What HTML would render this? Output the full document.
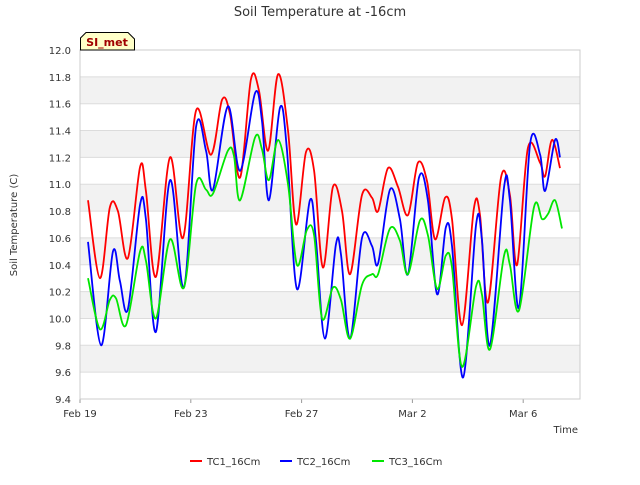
<!DOCTYPE html>
<html><head><meta charset="utf-8"><style>
body{margin:0;background:#fff;font-family:"Liberation Sans","DejaVu Sans",sans-serif;}
svg text{font-family:"DejaVu Sans","Liberation Sans",sans-serif;}
</style></head><body>
<svg id="c" width="640" height="480" xmlns="http://www.w3.org/2000/svg"></svg>
<script>
const xTickLabels=["Feb 19","Feb 23","Feb 27","Mar 2","Mar 6"];
const xTickDays=[0,4,8,12,16];
const yTicks=[9.4,9.6,9.8,10.0,10.2,10.4,10.6,10.8,11.0,11.2,11.4,11.6,11.8,12.0];
const seriesNames=["TC1_16Cm","TC2_16Cm","TC3_16Cm"];
const tc1Days=[0.29,0.72,1.08,1.37,1.73,2.17,2.38,2.74,3.25,3.72,4.19,4.73,5.13,5.42,5.78,6.17,6.46,6.79,7.15,7.51,7.80,8.16,8.45,8.77,9.13,9.46,9.75,10.18,10.54,10.76,11.12,11.48,11.84,12.20,12.53,12.82,13.18,13.43,13.79,14.22,14.44,14.73,15.20,15.52,15.78,16.17,16.61,16.79,17.04,17.33];
const tc1Vals=[10.88,10.30,10.83,10.80,10.45,11.13,10.95,10.31,11.20,10.60,11.55,11.22,11.63,11.52,11.05,11.78,11.70,11.25,11.82,11.40,10.70,11.24,11.10,10.38,10.98,10.80,10.33,10.92,10.90,10.80,11.12,10.98,10.77,11.16,11.02,10.59,10.90,10.74,9.95,10.82,10.77,10.12,11.05,10.92,10.40,11.27,11.16,11.06,11.33,11.12];
const tc2Days=[0.29,0.76,1.19,1.44,1.73,2.17,2.38,2.74,3.25,3.75,4.19,4.55,4.80,5.34,5.78,6.32,6.57,6.82,7.22,7.47,7.83,8.30,8.52,8.84,9.24,9.42,9.75,10.18,10.54,10.76,11.19,11.55,11.84,12.24,12.56,12.89,13.21,13.43,13.83,14.30,14.51,14.80,15.31,15.52,15.85,16.25,16.61,16.79,17.15,17.33];
const tc2Vals=[10.57,9.80,10.50,10.28,10.07,10.85,10.74,9.90,11.03,10.23,11.43,11.25,10.96,11.58,11.10,11.68,11.47,10.88,11.57,11.26,10.22,10.88,10.58,9.85,10.55,10.48,9.85,10.60,10.54,10.41,10.96,10.74,10.33,11.05,10.88,10.18,10.68,10.54,9.56,10.70,10.59,9.80,10.98,10.88,10.08,11.30,11.22,10.95,11.33,11.20];
const tc3Days=[0.29,0.72,1.08,1.30,1.66,2.17,2.38,2.74,3.25,3.75,4.19,4.55,4.80,5.34,5.56,5.78,6.32,6.57,6.82,7.15,7.51,7.83,8.19,8.45,8.74,9.13,9.42,9.75,10.18,10.54,10.76,11.19,11.55,11.84,12.27,12.56,12.89,13.21,13.43,13.79,14.30,14.51,14.80,15.31,15.52,15.85,16.39,16.68,16.90,17.15,17.40];
const tc3Vals=[10.30,9.92,10.14,10.15,9.95,10.50,10.43,10.00,10.59,10.23,11.00,10.96,10.93,11.25,11.21,10.88,11.35,11.26,11.03,11.33,11.00,10.40,10.66,10.62,10.00,10.23,10.14,9.85,10.25,10.33,10.33,10.67,10.58,10.33,10.73,10.62,10.22,10.47,10.38,9.64,10.24,10.18,9.77,10.47,10.40,10.06,10.83,10.74,10.78,10.88,10.67];
const colors=["#ff0000","#0000ff","#00e600"];
const NS="http://www.w3.org/2000/svg";
const svg=document.getElementById('c');
const L=80,R=580,T=50,B=399;
const xs=d=>L+d*27.7;
const ys=v=>B-(v-9.4)/(12.0-9.4)*(B-T);
function mk(tag,attrs,parent){const e=document.createElementNS(NS,tag);for(const k in attrs)e.setAttribute(k,attrs[k]);(parent||svg).appendChild(e);return e;}
function smoothPath(p){
  let d='M'+p[0][0].toFixed(1)+','+p[0][1].toFixed(1);
  for(let i=0;i<p.length-1;i++){
    const p0=p[Math.max(0,i-1)],p1=p[i],p2=p[i+1],p3=p[Math.min(p.length-1,i+2)];
    const c1=[p1[0]+(p2[0]-p0[0])/6,p1[1]+(p2[1]-p0[1])/6];
    const c2=[p2[0]-(p3[0]-p1[0])/6,p2[1]-(p3[1]-p1[1])/6];
    d+=' C'+c1[0].toFixed(1)+','+c1[1].toFixed(1)+' '+c2[0].toFixed(1)+','+c2[1].toFixed(1)+' '+p2[0].toFixed(1)+','+p2[1].toFixed(1);
  }
  return d;
}
let e=mk('rect',{x:L,y:T,width:R-L,height:B-T,fill:'#fff'});


for(let i=0;i<yTicks.length-1;i++){
  if(i%2===1){
    e=mk('rect',{x:L,y:ys(yTicks[i+1]),width:R-L,height:ys(yTicks[i])-ys(yTicks[i+1]),fill:'#f2f2f2'});
    
    
  }
}
yTicks.forEach(v=>{
  e=mk('line',{x1:L,x2:R,y1:ys(v),y2:ys(v),stroke:'#dcdcdc','stroke-width':1});
  
  
  e=mk('text',{x:71,y:ys(v)+4,'text-anchor':'end','font-size':10,fill:'#333'});
  e.textContent=v.toFixed(1);
  
  
});
xTickDays.forEach((d,i)=>{
  e=mk('line',{x1:xs(d),x2:xs(d),y1:B,y2:B+4,stroke:'#999'});
  
  
  e=mk('text',{x:xs(d),y:B+18,'text-anchor':'middle','font-size':10,fill:'#333'});
  e.textContent=xTickLabels[i];
  
  
});
e=mk('rect',{x:L,y:T,width:R-L,height:B-T,fill:'none',stroke:'#ccc'});


const allDays=[tc1Days,tc2Days,tc3Days],allVals=[tc1Vals,tc2Vals,tc3Vals];
allVals.forEach((vals,s)=>{
  const pts=vals.map((v,i)=>[xs(allDays[s][i]),ys(v)]);
  e=mk('path',{d:smoothPath(pts),fill:'none',stroke:colors[s],'stroke-width':1.8,'stroke-linejoin':'round'});
  
  
});
e=mk('text',{x:320,y:16,'text-anchor':'middle','font-size':13,fill:'#333'});
e.textContent='Soil Temperature at -16cm';


e=mk('text',{x:17,y:225,'text-anchor':'middle','font-size':10,fill:'#333',transform:'rotate(-90 17 225)'});
e.textContent='Soil Temperature (C)';


e=mk('text',{x:578,y:433,'text-anchor':'end','font-size':10,fill:'#333'});
e.textContent='Time';


e=mk('path',{d:'M80.5,50 L80.5,38 L86,32.5 L128,32.5 L134.5,39 L134.5,50 Z',fill:'#ffffc8',stroke:'#000'});


e=mk('text',{x:107,y:46,'text-anchor':'middle','font-size':11,'font-weight':'bold',fill:'#a00000'});
e.textContent='SI_met';


const legX=[190,280,372];
seriesNames.forEach((n,s)=>{
  const g=mk('g',{});
  
  
  mk('line',{x1:legX[s],x2:legX[s]+12,y1:461,y2:461,stroke:colors[s],'stroke-width':2},g);
  const t=mk('text',{x:legX[s]+17,y:465,'font-size':10,fill:'#333'},g);
  t.textContent=n;
});
</script>
</body></html>
